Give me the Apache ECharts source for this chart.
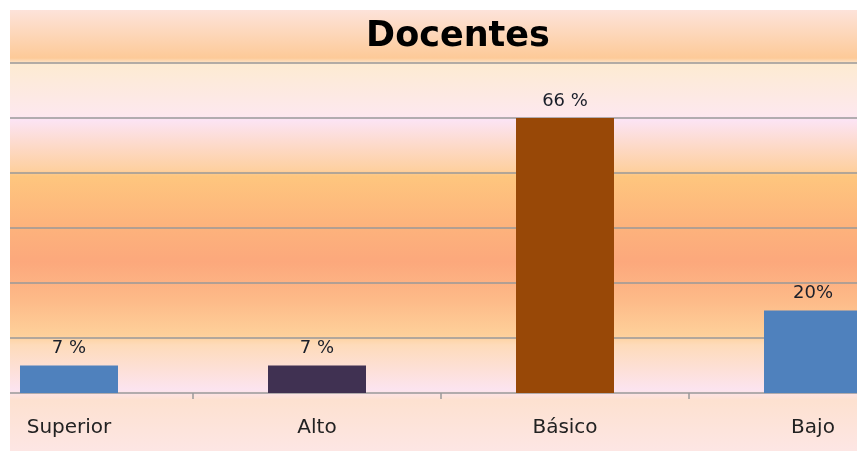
<!DOCTYPE html>
<html>
<head>
<meta charset="utf-8">
<script src="https://cdn.jsdelivr.net/npm/echarts@6/dist/echarts.min.js"></script>
<style>
html,body{margin:0;padding:0;background:#fff;overflow:hidden;}
#wrap{position:relative;width:857px;height:451px;overflow:hidden;background:#fff;}
#chart{position:absolute;left:-56px;top:0;width:993px;height:451px;}
</style>
</head>
<body>
<div id="wrap"><div id="chart"></div></div>
<script>
const categories = ['Superior', 'Alto', 'Básico', 'Bajo'];
const counts = [1, 1, 10, 3];
const valueLabels = ['7 %', '7 %', '66 %', '20%'];
const barColors = ['#4f81bd', '#403152', '#984807', '#4f81bd'];
const yMin = 0, yMax = 12, yStep = 2;

const chart = echarts.init(document.getElementById('chart'));
const font = 'DejaVu Sans';
const shift = 56; // chart canvas starts 56px left of the page
const bgStops = [
  [10, '#fde3da'], [58, '#fdca98'], [64, '#fdebd2'], [115, '#fde8ee'], [120, '#fce4f4'],
  [170, '#fed0a0'], [176, '#fec67e'], [225, '#fdb37c'], [262, '#fca87c'], [300, '#fdba88'],
  [335, '#fed09a'], [345, '#fedbba'], [390, '#fce4f0'], [400, '#fde1d0'], [451, '#fde6e4']
].map(s => ({ offset: (s[0] - 10) / 441, color: s[1] }));

chart.setOption({
  backgroundColor: '#ffffff',
  animation: false,
  graphic: [{
    type: 'rect', z: -10, silent: true,
    shape: { x: 10 + shift, y: 10, width: 927, height: 441 },
    style: { fill: new echarts.graphic.LinearGradient(0, 0, 0, 1, bgStops) }
  }],
  title: {
    text: 'Docentes', left: 453 + shift, top: 14, textAlign: 'center',
    textStyle: { fontFamily: font, fontSize: 35, fontWeight: 'bold', color: '#000' }
  },
  grid: [
    { left: 1, right: 0, top: 63, bottom: 58 },
    { left: 10 + shift, right: 993 - 857 - shift, top: 63, bottom: 58 }
  ],
  xAxis: [
    {
      type: 'category', gridIndex: 0, data: categories,
      axisLine: { show: false },
      axisTick: { show: true, length: 6, lineStyle: { color: '#999', width: 1.5 } },
      axisLabel: { margin: 25, fontFamily: font, fontSize: 20, color: '#222' }
    },
    { type: 'value', gridIndex: 1, show: false, min: 0, max: 1 }
  ],
  yAxis: [
    { type: 'value', gridIndex: 0, min: yMin, max: yMax, interval: yStep, show: false, splitLine: { show: false } },
    {
      type: 'value', gridIndex: 1, min: yMin, max: yMax, interval: yStep,
      axisLine: { show: false }, axisTick: { show: false }, axisLabel: { show: false },
      splitLine: { show: true, lineStyle: { color: '#999999', width: 1.5 } }
    }
  ],
  series: [{
    type: 'bar', xAxisIndex: 0, yAxisIndex: 0, barWidth: 98,
    data: counts.map((v, i) => ({ value: v, itemStyle: { color: barColors[i] } })),
    label: {
      show: true, position: 'top', distance: 8,
      fontFamily: font, fontSize: 18, color: '#1a1f2a',
      formatter: p => valueLabels[p.dataIndex]
    }
  }]
});
</script>
</body>
</html>
